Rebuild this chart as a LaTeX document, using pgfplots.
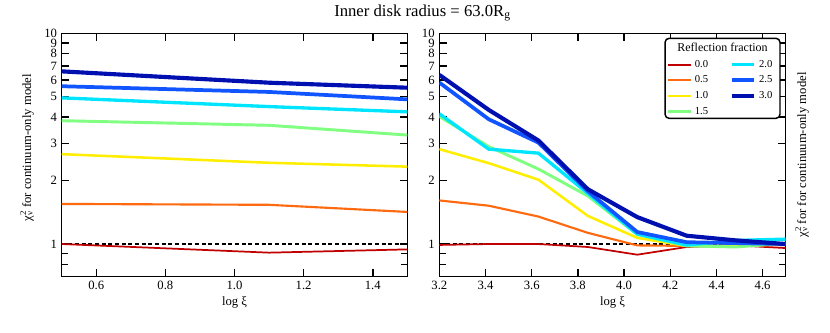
\documentclass[border=0pt]{standalone}
\usepackage{fontspec}
\setmainfont{Liberation Serif}
\usepackage{pgfplots}
\usepackage{pgfplotstable}
\pgfplotsset{compat=1.18}
\definecolor{c0}{HTML}{C00000}
\definecolor{c1}{HTML}{FF6A10}
\definecolor{c2}{HTML}{FFEE00}
\definecolor{c3}{HTML}{80FF80}
\definecolor{c4}{HTML}{00E5FF}
\definecolor{c5}{HTML}{1055FF}
\definecolor{c6}{HTML}{0010B0}

\pgfplotstableread{
x r0 r1 r2 r3 r4 r5 r6
0.5 1.00 1.55 2.67 3.85 4.94 5.61 6.60
1.1 0.91 1.535 2.43 3.66 4.49 5.27 5.83
1.5 0.943 1.42 2.33 3.29 4.24 4.86 5.52
}\lefttab

\pgfplotstableread{
x r0 r1 r2 r3 r4 r5 r6
3.2 0.99 1.61 2.82 4.03 4.15 5.84 6.35
3.414 1.0 1.52 2.42 2.90 2.82 3.91 4.33
3.629 1.0 1.35 2.02 2.27 2.70 3.03 3.10
3.843 0.968 1.13 1.36 1.69 1.74 1.78 1.82
4.057 0.89 0.985 1.07 1.11 1.115 1.14 1.342
4.271 0.968 0.98 0.98 0.98 0.99 1.02 1.095
4.486 0.985 0.98 0.98 0.968 1.04 1.01 1.04
4.7 0.957 0.99 1.0 1.01 1.055 1.0 1.0
}\righttab

\tikzset{
  s0/.style={c0, line width=1.3pt},
  s1/.style={c1, line width=1.6pt},
  s2/.style={c2, line width=1.9pt},
  s3/.style={c3, line width=2.2pt},
  s4/.style={c4, line width=2.5pt},
  s5/.style={c5, line width=2.8pt},
  s6/.style={c6, line width=3.1pt},
}

\newcommand{\chilabel}{χ\rlap{\textsuperscript{2}}\textsubscript{ν}}

\begin{document}
\begin{tikzpicture}
\useasboundingbox (-46.3pt,-41.5pt) rectangle (576.2pt,207.5pt);
\begin{axis}[
    scale only axis, width=259.2pt, height=182.5pt,
    ymode=log, ymin=0.7, ymax=10,
    ytick={1,2,3,4,5,6,7,8,9,10},
    yticklabels={1,2,3,4,5,6,7,8,9,10},
    minor ytick={0.8,0.9},
    tick align=inside, major tick length=5.5pt, minor tick length=5pt,
    every tick/.style={black, line width=1.1pt},
    axis line style={line width=1.1pt},
    tick label style={font=\fontsize{9.5}{10}\selectfont},
    x tick label style={/pgf/number format/.cd, fixed, fixed zerofill, precision=1, assume math mode=true, /tikz/.cd},
    y tick label style={/pgf/number format/.cd, assume math mode=true, /tikz/.cd},
    xlabel={log ξ},
    xlabel style={font=\fontsize{9.5}{10}\selectfont, at={(axis description cs:0.5,0)}, anchor=center, yshift=-19.7pt},
    ylabel style={font=\fontsize{9.5}{10}\selectfont, anchor=center, at={(axis description cs:-0.1003,0.53)}},
    xmin=0.5, xmax=1.5, xtick={0.6,0.8,1.0,1.2,1.4},
    ylabel={\chilabel{} for continuum-only model},
  ]
\addplot[black, line width=0.8pt, dash pattern=on 3pt off 2pt, forget plot] coordinates {(0.5,1) (1.5,1)};
\addplot[s0, line join=round] table[x=x,y=r0] {\lefttab};
\addplot[s1, line join=round] table[x=x,y=r1] {\lefttab};
\addplot[s2, line join=round] table[x=x,y=r2] {\lefttab};
\addplot[s3, line join=round] table[x=x,y=r3] {\lefttab};
\addplot[s4, line join=round] table[x=x,y=r4] {\lefttab};
\addplot[s5, line join=round] table[x=x,y=r5] {\lefttab};
\addplot[s6, line join=round] table[x=x,y=r6] {\lefttab};
\end{axis}

\begin{axis}[
    at={(283.2pt,0pt)},
    scale only axis, width=259.8pt, height=182.5pt,
    ymode=log, ymin=0.7, ymax=10,
    ytick={1,2,3,4,5,6,7,8,9,10},
    yticklabels={1,2,3,4,5,6,7,8,9,10},
    minor ytick={0.8,0.9},
    tick align=inside, major tick length=5.5pt, minor tick length=5pt,
    every tick/.style={black, line width=1.1pt},
    axis line style={line width=1.1pt},
    tick label style={font=\fontsize{9.5}{10}\selectfont},
    x tick label style={/pgf/number format/.cd, fixed, fixed zerofill, precision=1, assume math mode=true, /tikz/.cd},
    y tick label style={/pgf/number format/.cd, assume math mode=true, /tikz/.cd},
    xlabel={log ξ},
    xlabel style={font=\fontsize{9.5}{10}\selectfont, at={(axis description cs:0.5,0)}, anchor=center, yshift=-19.7pt},
    ylabel style={font=\fontsize{9.5}{10}\selectfont, anchor=center, at={(axis description cs:1.047,0.5)}},
    xmin=3.2, xmax=4.7, xtick={3.2,3.4,3.6,3.8,4.0,4.2,4.4,4.6},
    ylabel={\chilabel{} for for continuum-only model},
    legend columns=2,
    legend cell align=left,
    legend style={draw=none, fill=none, inner sep=0pt, row sep=0.9pt,
      at={(axis description cs:0.655,0.902)}, anchor=north west,
      font=\fontsize{8}{8}\selectfont,
      /tikz/every even column/.append style={column sep=14pt}},
  ]
\addplot[black, line width=0.8pt, dash pattern=on 3pt off 2pt, forget plot] coordinates {(3.2,1) (4.7,1)};
\addplot[s0, line join=round, forget plot] table[x=x,y=r0] {\righttab};
\addplot[s1, line join=round, forget plot] table[x=x,y=r1] {\righttab};
\addplot[s2, line join=round, forget plot] table[x=x,y=r2] {\righttab};
\addplot[s3, line join=round, forget plot] table[x=x,y=r3] {\righttab};
\addplot[s4, line join=round, forget plot] table[x=x,y=r4] {\righttab};
\addplot[s5, line join=round, forget plot] table[x=x,y=r5] {\righttab};
\addplot[s6, line join=round, forget plot] table[x=x,y=r6] {\righttab};
\draw[line width=1.1pt, rounded corners=3pt, fill=white] (axis description cs:0.6517,0.9795) rectangle (axis description cs:0.9834,0.6507);
\node[font=\fontsize{9}{9}\selectfont] at (axis description cs:0.8176,0.9408) {Reflection fraction};
\addlegendimage{s0}\addlegendentry{0.0}
\addlegendimage{s4}\addlegendentry{2.0}
\addlegendimage{s1}\addlegendentry{0.5}
\addlegendimage{s5}\addlegendentry{2.5}
\addlegendimage{s2}\addlegendentry{1.0}
\addlegendimage{s6}\addlegendentry{3.0}
\addlegendimage{s3}\addlegendentry{1.5}
\end{axis}

\node[font=\fontsize{12.5}{14}\selectfont] at (270.6pt,197.7pt) {Inner disk radius = 63.0R\textsubscript{g}};
\end{tikzpicture}
\end{document}
